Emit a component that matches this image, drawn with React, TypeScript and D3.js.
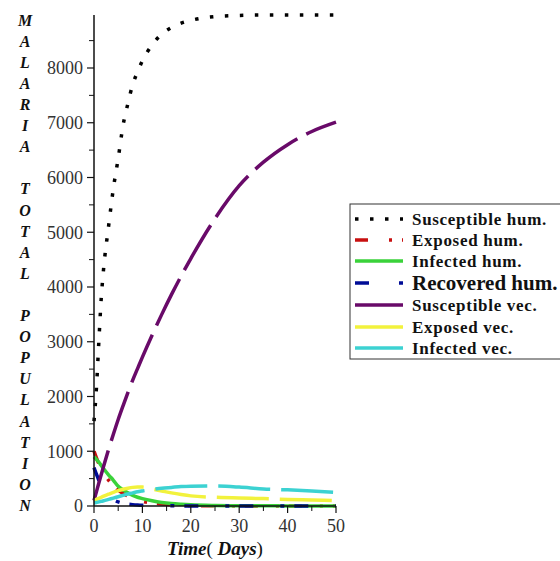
import * as d3 from 'd3'

// time grid (days)
const days = [0, 0.5, 1, 1.5, 2, 3, 4, 5, 6, 7, 8, 9, 10, 12, 14, 16, 18, 20, 25, 30, 35, 40, 45, 50]

const susceptibleHum = [1550, 2150, 3000, 3800, 4350, 5100, 5800, 6350, 6950, 7350, 7700, 7930, 8130, 8420, 8620, 8740, 8820, 8870, 8940, 8960, 8968, 8968, 8968, 8968]
const exposedHum = [1000, 880, 770, 680, 600, 470, 370, 290, 230, 180, 140, 110, 85, 55, 35, 22, 14, 9, 4, 2, 1, 1, 1, 1]
const infectedHum = [900, 850, 800, 740, 680, 570, 470, 360, 295, 240, 195, 160, 135, 95, 65, 45, 32, 22, 10, 5, 3, 2, 1, 1]
const recoveredHum = [700, 580, 470, 370, 290, 180, 115, 75, 50, 35, 25, 18, 13, 8, 5, 3, 2, 2, 1, 1, 1, 1, 1, 1]
const susceptibleVec = [100, 260, 420, 575, 730, 1030, 1310, 1580, 1830, 2070, 2300, 2510, 2720, 3120, 3500, 3860, 4200, 4520, 5250, 5850, 6280, 6600, 6840, 7010]
const exposedVec = [100, 120, 140, 160, 180, 215, 250, 280, 305, 325, 340, 345, 345, 310, 275, 240, 210, 185, 160, 145, 135, 120, 110, 100]
const infectedVec = [60, 65, 75, 85, 95, 120, 145, 170, 195, 220, 240, 260, 275, 300, 325, 340, 355, 362, 365, 345, 310, 295, 275, 250]

const yTicks = [0, 1000, 2000, 3000, 4000, 5000, 6000, 7000, 8000]
const xTicks = [0, 10, 20, 30, 40, 50]
const yLabel = 'MALARIA TOTAL POPULATION'

const series = [
  { name: 'Susceptible hum.', values: susceptibleHum, color: '#000000', dash: '3.5 11.5', legendDash: '3.5 11.5' },
  { name: 'Exposed hum.', values: exposedHum, color: '#c81010', dash: '13 18 3 10', legendDash: '13 21 3 10' },
  { name: 'Infected hum.', values: infectedHum, color: '#3ad23a', dash: null, legendDash: null },
  { name: 'Recovered hum.', values: recoveredHum, color: '#000c96', dash: '14 27 4 10', legendDash: '14 30 4 10' },
  { name: 'Susceptible vec.', values: susceptibleVec, color: '#690a69', dash: '52 10', legendDash: null },
  { name: 'Exposed vec.', values: exposedVec, color: '#f2f23c', dash: '52 11', legendDash: null },
  { name: 'Infected vec.', values: infectedVec, color: '#3cd2d2', dash: '52 11', legendDash: null },
]

export default function App() {
  const width = 560
  const height = 561
  const x = d3.scaleLinear().domain([0, 50]).range([94, 336])
  const y = d3.scaleLinear().domain([0, 8968]).range([506, 15])

  const line = d3.line<number>()
    .x((_, i) => x(days[i]))
    .y(d => y(d))
    .curve(d3.curveMonotoneX)

  const serif = '"Liberation Serif", "DejaVu Serif", serif'
  const minorY = d3.range(500, 8968, 1000)
  const minorX = d3.range(5, 50, 10)
  const legendRowY = [219, 240, 261, 283, 305, 327, 348]

  return (
    <svg width={width} height={height} style={{ position: 'absolute', left: 0, top: 0, background: '#fff' }}>
      {/* y axis letters */}
      {yLabel.split('').map((ch, i) => (
        <text key={i} x={25} y={20 + i * 21.1} dy="0.35em" textAnchor="middle"
          fontFamily={serif} fontSize={16} fontWeight="bold" fontStyle="italic" fill="#111">{ch}</text>
      ))}

      {/* curves */}
      {series.map(s => (
        <path key={s.name} d={line(s.values) || ''} fill="none" stroke={s.color}
          strokeWidth={3.5} strokeDasharray={s.dash || undefined} />
      ))}

      {/* axes */}
      <line x1={94} x2={94} y1={y(0)} y2={15} stroke="#111" strokeWidth={1.5} />
      <line x1={94} x2={336} y1={y(0)} y2={y(0)} stroke="#111" strokeWidth={1.5} />
      {yTicks.map(t => (
        <g key={t}>
          <line x1={87} x2={94} y1={y(t)} y2={y(t)} stroke="#111" strokeWidth={1.2} />
          <text x={83} y={y(t)} dy="0.35em" textAnchor="end" fontFamily={serif} fontSize={18} fill="#333">{t}</text>
        </g>
      ))}
      {minorY.map(t => (
        <line key={t} x1={89} x2={94} y1={y(t)} y2={y(t)} stroke="#111" strokeWidth={1} />
      ))}
      {xTicks.map(t => (
        <g key={t}>
          <line x1={x(t)} x2={x(t)} y1={y(0)} y2={y(0) + 7} stroke="#111" strokeWidth={1.2} />
          <text x={x(t)} y={526} dy="0.35em" textAnchor="middle" fontFamily={serif} fontSize={18} fill="#333">{t}</text>
        </g>
      ))}
      {minorX.map(t => (
        <line key={t} x1={x(t)} x2={x(t)} y1={y(0)} y2={y(0) + 5} stroke="#111" strokeWidth={1} />
      ))}
      <text x={215} y={548} dy="0.35em" textAnchor="middle" fontFamily={serif} fontSize={19} fill="#111">
        <tspan fontWeight="bold" fontStyle="italic">Time</tspan>
        <tspan>( </tspan>
        <tspan fontWeight="bold" fontStyle="italic">Days</tspan>
        <tspan>)</tspan>
      </text>

      {/* legend */}
      <rect x={350} y={204} width={220} height={155} fill="#fff" stroke="#333" strokeWidth={1} />
      {series.map((s, i) => (
        <g key={s.name}>
          <line x1={355} x2={403} y1={legendRowY[i]} y2={legendRowY[i]} stroke={s.color}
            strokeWidth={3.5} strokeDasharray={s.legendDash || undefined} />
          <text x={412} y={legendRowY[i]} dy="0.35em" fontFamily={serif} fontWeight="bold"
            letterSpacing={s.name === 'Recovered hum.' ? 0 : 0.7}
            fontSize={s.name === 'Recovered hum.' ? 21 : 17} fill="#111">{s.name}</text>
        </g>
      ))}
    </svg>
  )
}
